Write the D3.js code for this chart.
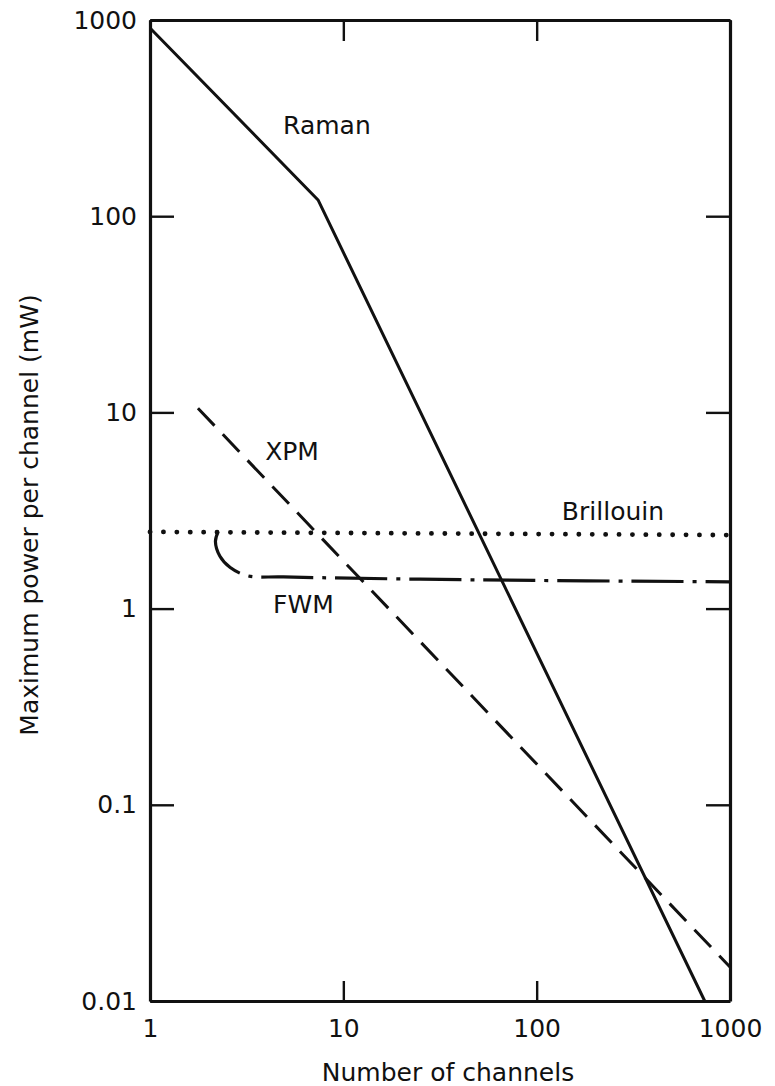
<!DOCTYPE html>
<html>
<head>
<meta charset="utf-8">
<script src="https://cdn.jsdelivr.net/npm/d3@7"></script>
<style>
  html, body { margin: 0; padding: 0; background: #fff; }
  svg text { font-family: "DejaVu Sans", sans-serif; fill: #111; }
</style>
</head>
<body>
<svg id="chart" width="775" height="1086"></svg>
<script>
// ---- data ----
const xTicks = [1, 10, 100, 1000];
const xTickLabels = ["1", "10", "100", "1000"];
const yTicks = [0.01, 0.1, 1, 10, 100, 1000];
const yTickLabels = ["0.01", "0.1", "1", "10", "100", "1000"];

const ramanN = [1, 7.4, 740];
const ramanP = [910, 121, 0.01];

const xpmN = [1.77, 1000];
const xpmP = [10.5, 0.0149];

const brillouinN = [1, 1000];
const brillouinP = [2.46, 2.37];

const fwmN = [2.25, 2.18, 2.3, 2.6, 3.2, 4.9, 52, 1000];
const fwmP = [2.46, 2.2, 1.85, 1.62, 1.47, 1.45, 1.40, 1.37];

const seriesLabels = [
  { text: "Raman", n: 4.88, p: 262 },
  { text: "XPM", n: 3.94, p: 5.7 },
  { text: "Brillouin", n: 135, p: 2.83 },
  { text: "FWM", n: 4.33, p: 0.95 }
];

// ---- layout ----
const mLeft = 150, mRight = 730, mTop = 20, mBottom = 1001;
const svg = d3.select("#chart");
const x = d3.scaleLog().domain([1, 1000]).range([mLeft, mRight]);
const y = d3.scaleLog().domain([0.01, 1000]).range([mBottom, mTop]);
const ink = "#111";

function styleAxis(g) {
  g.selectAll(".domain").attr("stroke", ink).attr("stroke-width", 3.2);
  g.selectAll(".tick line").attr("stroke", ink).attr("stroke-width", 2.4);
  g.selectAll(".tick text").attr("fill", ink)
    .style("font-family", '"DejaVu Sans", sans-serif').style("font-size", "25px");
}

// bottom axis
svg.append("g").attr("transform", `translate(0,${mBottom})`)
  .call(d3.axisBottom(x).tickValues(xTicks).tickSizeInner(-20).tickSizeOuter(0)
    .tickPadding(18).tickFormat((d, i) => xTickLabels[i]))
  .call(styleAxis);
// top axis
svg.append("g").attr("transform", `translate(0,${mTop})`)
  .call(d3.axisTop(x).tickValues(xTicks).tickSizeInner(-21).tickSizeOuter(0).tickFormat(""))
  .call(styleAxis);
// left axis
svg.append("g").attr("transform", `translate(${mLeft},0)`)
  .call(d3.axisLeft(y).tickValues(yTicks).tickSizeInner(-24).tickSizeOuter(0)
    .tickPadding(13).tickFormat((d, i) => yTickLabels[i]))
  .call(styleAxis);
// right axis
svg.append("g").attr("transform", `translate(${mRight},0)`)
  .call(d3.axisRight(y).tickValues(yTicks).tickSizeInner(-24).tickSizeOuter(0).tickFormat(""))
  .call(styleAxis);

// ---- curves ----
const line = d3.line().x(d => x(d[0])).y(d => y(d[1]));
const zip = (a, b) => a.map((v, i) => [v, b[i]]);

svg.append("path").datum(zip(ramanN, ramanP))
  .attr("d", line).attr("fill", "none").attr("stroke", ink)
  .attr("stroke-width", 3).attr("stroke-linejoin", "round");

svg.append("path").datum(zip(xpmN, xpmP))
  .attr("d", line).attr("fill", "none").attr("stroke", ink)
  .attr("stroke-width", 3).attr("stroke-dasharray", "24,12");

svg.append("path").datum(zip(brillouinN, brillouinP))
  .attr("d", line).attr("fill", "none").attr("stroke", ink)
  .attr("stroke-width", 4.8).attr("stroke-linecap", "round")
  .attr("stroke-dasharray", "0.1,13.3");

const curvy = d3.line().x(d => x(d[0])).y(d => y(d[1])).curve(d3.curveCatmullRom.alpha(0.5));
svg.append("path").datum(zip(fwmN, fwmP))
  .attr("d", curvy).attr("fill", "none").attr("stroke", ink)
  .attr("stroke-width", 3.2).attr("stroke-dasharray", "52,9,4,9");

// ---- labels ----
svg.selectAll("text.series").data(seriesLabels).enter().append("text")
  .attr("class", "series")
  .attr("x", d => x(d.n)).attr("y", d => y(d.p))
  .style("font-size", "25px")
  .text(d => d.text);

svg.append("text")
  .attr("x", (mLeft + mRight) / 2 + 8).attr("y", 1081)
  .attr("text-anchor", "middle").style("font-size", "25px")
  .text("Number of channels");

svg.append("text")
  .attr("transform", `translate(38,515) rotate(-90)`)
  .attr("text-anchor", "middle").style("font-size", "25px")
  .text("Maximum power per channel (mW)");
</script>
</body>
</html>
